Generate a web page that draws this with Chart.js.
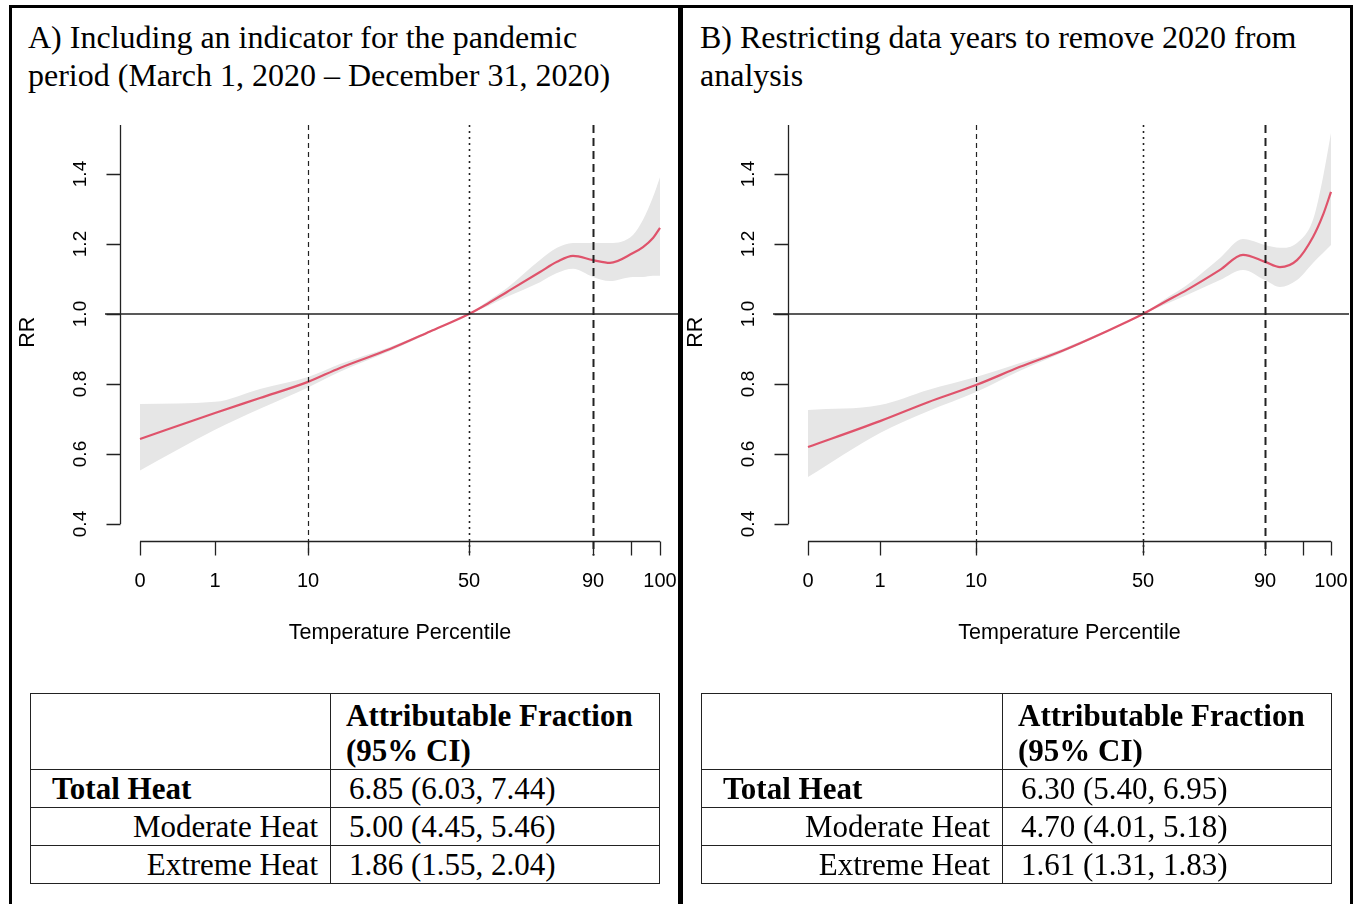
<!DOCTYPE html>
<html>
<head>
<meta charset="utf-8">
<script src="https://cdn.jsdelivr.net/npm/chart.js@4.4.1/dist/chart.umd.min.js"></script>
<style>
  body { margin: 0; width: 1360px; height: 904px; overflow: hidden; position: relative; background: #fff;
         font-family: "Liberation Serif", "Times New Roman", serif; color: #000; }
  .frame { position: absolute; left: 9px; top: 5px; width: 1338px; height: 940px; border: 3px solid #000; border-bottom: none; z-index: 3; }
  .divider { position: absolute; left: 678px; top: 5px; width: 5px; height: 900px; background: #000; z-index: 3; }
  .title { position: absolute; top: 18px; font-size: 32px; line-height: 38px; white-space: nowrap; }
  .plot { position: absolute; top: 100px; }
  table { position: absolute; top: 693px; border-collapse: collapse; table-layout: fixed; font-size: 31px; line-height: 35px; }
  td { border: 1.5px solid #222; padding: 0; vertical-align: middle; white-space: nowrap; }
  tr.head td { height: 71px; vertical-align: top; }
  tr.row td { height: 37px; }
  td.af { padding: 4px 0 0 15px; }
  td.lab0 { padding-left: 21px; text-align: left; }
  td.lab { padding-right: 12px; text-align: right; }
  td.val { padding-left: 18px; }
</style>
</head>
<body>
<div class="frame"></div>
<div class="divider"></div>

<div class="title" style="left:28px">A) Including an indicator for the pandemic<br>period (March 1, 2020 – December 31, 2020)</div>
<div class="title" style="left:700px">B) Restricting data years to remove 2020 from<br>analysis</div>

<canvas id="chartA" class="plot" style="left:12px" width="666" height="560"></canvas>
<canvas id="chartB" class="plot" style="left:680px" width="669" height="560"></canvas>

<table id="tableA" style="left:30px"><colgroup><col style="width:300px"><col style="width:329px"></colgroup></table>
<table id="tableB" style="left:701px"><colgroup><col style="width:301px"><col style="width:329px"></colgroup></table>

<script>
// axis ticks (percentiles of temperature, RR)
const pctTicks = [0, 1, 10, 50, 90, 99, 100]
const pctTickLabels = ['0', '1', '10', '50', '90', '', '100']
const rrTicks = [0.4, 0.6, 0.8, 1.0, 1.2, 1.4]
const rrTickLabels = ['0.4', '0.6', '0.8', '1.0', '1.2', '1.4']

// panel A: temperature at each percentile tick, then the curve
const tickTempA = [-15, -7.5, 1.8, 17.9, 30.3, 34.1, 37.0]
const tempA = [-15, -7.5, -3.0, 1.8, 5.0, 10.0, 14.0, 17.9, 19.8, 21.7, 25.0, 26.7, 28.3, 30.3, 32.0, 34.3, 35.3, 36.3, 37.0]
const rrA   = [0.643, 0.717, 0.760, 0.806, 0.846, 0.900, 0.950, 1.000, 1.030, 1.063, 1.120, 1.149, 1.166, 1.154, 1.146, 1.174, 1.191, 1.217, 1.246]
const lowA  = [0.553, 0.669, 0.729, 0.790, 0.835, 0.894, 0.947, 1.000, 1.023, 1.049, 1.091, 1.117, 1.129, 1.106, 1.094, 1.106, 1.106, 1.109, 1.109]
const highA = [0.743, 0.749, 0.786, 0.820, 0.857, 0.906, 0.953, 1.000, 1.037, 1.074, 1.154, 1.189, 1.203, 1.203, 1.203, 1.226, 1.269, 1.334, 1.391]

// panel B
const tickTempB = [-15, -7.8, 1.8, 18.5, 30.7, 34.5, 37.3]
const tempB = [-15, -7.8, -3.0, 1.8, 6.2, 10.5, 14.5, 18.5, 20.7, 22.9, 26.2, 28.5, 30.7, 32.2, 33.9, 35.5, 36.5, 37.3]
const rrB   = [0.620, 0.694, 0.748, 0.797, 0.849, 0.896, 0.946, 1.000, 1.035, 1.069, 1.126, 1.169, 1.149, 1.134, 1.154, 1.220, 1.283, 1.349]
const lowB  = [0.534, 0.660, 0.722, 0.777, 0.838, 0.891, 0.943, 1.000, 1.027, 1.054, 1.097, 1.126, 1.097, 1.077, 1.097, 1.146, 1.174, 1.197]
const highB = [0.726, 0.740, 0.783, 0.820, 0.860, 0.901, 0.949, 1.000, 1.043, 1.083, 1.160, 1.214, 1.197, 1.189, 1.203, 1.269, 1.391, 1.517]

// tables
const rowLabels = ['Total Heat', 'Moderate Heat', 'Extreme Heat']
const afA = ['6.85 (6.03, 7.44)', '5.00 (4.45, 5.46)', '1.86 (1.55, 2.04)']
const afB = ['6.30 (5.40, 6.95)', '4.70 (4.01, 5.18)', '1.61 (1.31, 1.83)']

const SANS = '"Liberation Sans", Arial, Helvetica, sans-serif'
const RED = '#DF536B'

// R style axes, reference lines and labels
const rAxes = {
    id: 'rAxes',
    afterDatasetsDraw(chart, args, opts) {
        const { ctx, chartArea: a, scales: { x, y } } = chart
        const tx = opts.tickTemps.map(t => x.getPixelForValue(t))
        ctx.save()
        ctx.strokeStyle = '#222'
        ctx.fillStyle = '#000'

        // RR = 1
        ctx.lineWidth = 1.5
        ctx.beginPath()
        ctx.moveTo(a.left, y.getPixelForValue(1))
        ctx.lineTo(a.right, y.getPixelForValue(1))
        ctx.stroke()

        // 10th / 90th dashed, 50th dotted
        const refs = [
            { p: 10, w: 1.2, dash: [5, 4] },
            { p: 50, w: 1.6, dash: [2, 4] },
            { p: 90, w: 2, dash: [8, 5] }
        ]
        refs.forEach(r => {
            const px = Math.round(tx[pctTicks.indexOf(r.p)]) + 0.5
            ctx.lineWidth = r.w
            ctx.setLineDash(r.dash)
            ctx.beginPath()
            ctx.moveTo(px, a.top)
            ctx.lineTo(px, a.bottom)
            ctx.stroke()
        })
        ctx.setLineDash([])

        // y axis
        ctx.lineWidth = 1.3
        const ax = a.left + 15.5
        ctx.beginPath()
        ctx.moveTo(ax, a.top)
        ctx.lineTo(ax, y.getPixelForValue(rrTicks[0]))
        rrTicks.forEach(v => {
            const py = Math.round(y.getPixelForValue(v)) + 0.5
            ctx.moveTo(ax, py)
            ctx.lineTo(ax - 14, py)
        })
        ctx.stroke()
        ctx.font = '19px ' + SANS
        ctx.textAlign = 'center'
        ctx.textBaseline = 'middle'
        rrTicks.forEach((v, i) => {
            ctx.save()
            ctx.translate(a.left - 24, y.getPixelForValue(v))
            ctx.rotate(-Math.PI / 2)
            ctx.fillText(rrTickLabels[i], 0, 0)
            ctx.restore()
        })

        // x axis
        const ay = Math.round(a.bottom - 14.5) + 0.5
        ctx.beginPath()
        ctx.moveTo(tx[0], ay)
        ctx.lineTo(tx[tx.length - 1], ay)
        tx.forEach(px => {
            const xx = Math.round(px) + 0.5
            ctx.moveTo(xx, ay)
            ctx.lineTo(xx, ay + 14)
        })
        ctx.stroke()
        ctx.font = '20px ' + SANS
        tx.forEach((px, i) => ctx.fillText(pctTickLabels[i], px, a.bottom + 26))

        // axis titles
        ctx.font = '21.5px ' + SANS
        ctx.fillText('Temperature Percentile', (tx[0] + tx[tx.length - 1]) / 2, a.bottom + 78)
        ctx.save()
        ctx.translate(a.left - 77, (a.top + a.bottom) / 2 - 8)
        ctx.rotate(-Math.PI / 2)
        ctx.fillText('RR', 0, 0)
        ctx.restore()
        ctx.restore()
    }
}

function pts(xs, ys) {
    return xs.map((t, i) => ({ x: t, y: ys[i] }))
}

function drawPanel(id, temps, rr, lo, hi, tickTemps, xMax) {
    const ctx = document.getElementById(id)
    return new Chart(ctx, {
        type: 'line',
        data: {
            datasets: [
                { data: pts(temps, rr), borderColor: RED, borderWidth: 2.2, pointRadius: 0, fill: false,
                  cubicInterpolationMode: 'monotone' },
                { data: pts(temps, hi), borderWidth: 0, borderColor: 'rgba(0,0,0,0)', pointRadius: 0,
                  backgroundColor: '#E6E6E6', fill: '+1', cubicInterpolationMode: 'monotone' },
                { data: pts(temps, lo), borderWidth: 0, borderColor: 'rgba(0,0,0,0)', pointRadius: 0,
                  fill: false, cubicInterpolationMode: 'monotone' }
            ]
        },
        options: {
            responsive: false,
            animation: false,
            devicePixelRatio: 1,
            layout: { padding: { left: 93, right: 0, top: 25, bottom: 104.5 } },
            scales: {
                x: { type: 'linear', min: -18.5, max: xMax, display: false },
                y: { type: 'linear', min: 0.31, max: 1.54, display: false }
            },
            plugins: {
                legend: { display: false },
                tooltip: { enabled: false },
                rAxes: { tickTemps: tickTemps }
            }
        },
        plugins: [rAxes]
    })
}

function buildTable(id, values) {
    let html = '<tr class="head"><td></td><td class="af"><b>Attributable Fraction<br>(95% CI)</b></td></tr>'
    rowLabels.forEach((lab, i) => {
        const cell = i === 0 ? '<td class="lab0"><b>' + lab + '</b></td>' : '<td class="lab">' + lab + '</td>'
        html += '<tr class="row">' + cell + '<td class="val">' + values[i] + '</td></tr>'
    })
    document.getElementById(id).insertAdjacentHTML('beforeend', html)
}

drawPanel('chartA', tempA, rrA, lowA, highA, tickTempA, 38.8)
drawPanel('chartB', tempB, rrB, lowB, highB, tickTempB, 39.1)
buildTable('tableA', afA)
buildTable('tableB', afB)
</script>
</body>
</html>
